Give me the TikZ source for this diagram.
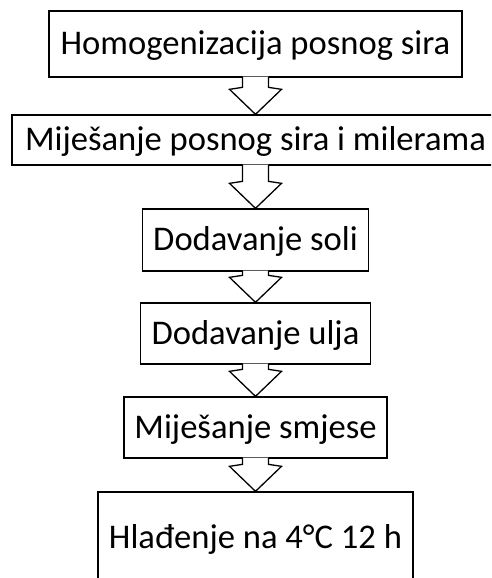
\documentclass[tikz,border=0pt]{standalone}
\usepackage{fontspec}
\setmainfont{Carlito}
\usetikzlibrary{calc}
\tikzset{
  stepbox/.style={draw=black, line width=1.3pt, fill=white, inner sep=0pt,
    text height=22pt, text depth=0pt, font=\fontsize{34.6}{40}\selectfont,
    minimum width=#1},
  barrow/.style={draw=black, line width=1.3pt, fill=white, line join=miter}
}
\newcommand{\blockarrow}[2]{%
  \draw[barrow] ($(#1.south)+(-13,1)$) -- ($(#2.north)+(-13,27)$) -- ($(#2.north)+(-26,25)$)
    -- (#2.north) -- ($(#2.north)+(26,25)$) -- ($(#2.north)+(13,27)$) -- ($(#1.south)+(13,1)$);}
\begin{document}
\begin{tikzpicture}[x=1pt,y=1pt]
\useasboundingbox (0,0) rectangle (491,578);
\clip (0,0) rectangle (491,578);
\fill[white] (0,0) rectangle (491,578);
\node[stepbox=413pt, minimum height=66pt] (b1) at (255.5,534) {Homogenizacija posnog sira};
\node[stepbox=487pt, minimum height=50pt] (b2) at (255.5,438) {Miješanje posnog sira i milerama};
\node[stepbox=226pt, minimum height=62pt] (b3) at (255.5,338) {Dodavanje soli};
\node[stepbox=230pt, minimum height=61pt] (b4) at (255.5,244.5) {Dodavanje ulja};
\node[stepbox=263pt, minimum height=61pt] (b5) at (255.5,150.5) {Miješanje smjese};
\node[stepbox=315pt, minimum height=92pt] (b6) at (255.5,40) {Hlađenje na 4°C 12 h};
\blockarrow{b1}{b2}
\blockarrow{b2}{b3}
\blockarrow{b3}{b4}
\blockarrow{b4}{b5}
\blockarrow{b5}{b6}
\end{tikzpicture}
\end{document}
